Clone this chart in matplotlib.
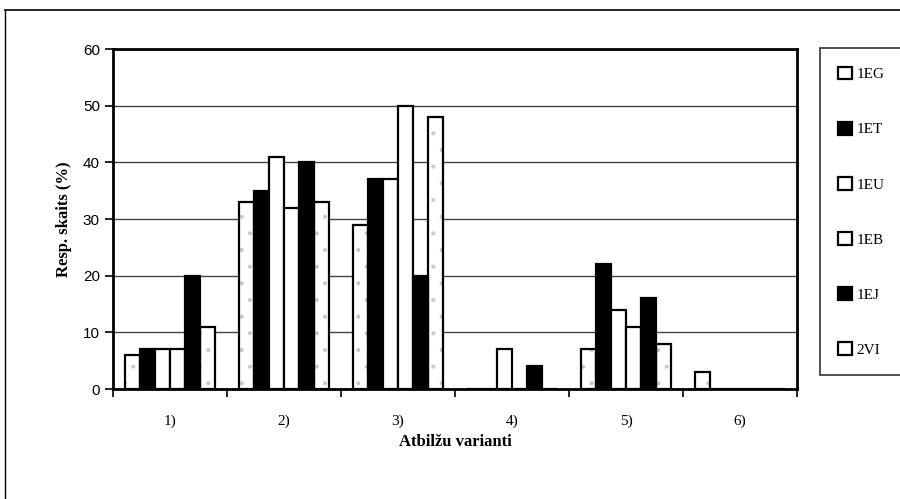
import numpy as np
import matplotlib.pyplot as plt

categories = ['1)', '2)', '3)', '4)', '5)', '6)']
groups = ['1EG', '1ET', '1EU', '1EB', '1EJ', '2VI']
v_1EG = [6, 33, 29, 0, 7, 3]
v_1ET = [7, 35, 37, 0, 22, 0]
v_1EU = [7, 41, 37, 7, 14, 0]
v_1EB = [7, 32, 50, 0, 11, 0]
v_1EJ = [20, 40, 20, 4, 16, 0]
v_2VI = [11, 33, 48, 0, 8, 0]
series = [v_1EG, v_1ET, v_1EU, v_1EB, v_1EJ, v_2VI]
fills = ['white', 'black', 'white', 'white', 'black', 'white']
dotted = [True, False, False, False, False, True]

plt.rcParams['font.family'] = ['Liberation Serif', 'DejaVu Serif']
plt.rcParams['hatch.linewidth'] = 0.5

fig = plt.figure(figsize=(9, 4.99), dpi=100)
ax = fig.add_axes([0.1256, 0.2204, 0.76, 0.6814])

x = np.arange(len(categories))
w = 0.132
for i, vals in enumerate(series):
    pos = x - 2.5 * w + i * w
    if dotted[i]:
        # faint stipple underneath
        ax.bar(pos, vals, width=w, color='white', edgecolor='#c8c8c8',
               linewidth=0, hatch='.', zorder=3)
        ax.bar(pos, vals, width=w, fill=False, edgecolor='black',
               linewidth=1.6, label=groups[i], zorder=4)
    else:
        ax.bar(pos, vals, width=w, color=fills[i], edgecolor='black',
               linewidth=1.6, label=groups[i], zorder=4)

ax.set_xlim(-0.5, 5.5)
ax.set_ylim(0, 60)
ax.set_yticks(range(0, 61, 10))
ax.yaxis.grid(True, color='#444444', linewidth=1.0, zorder=0)
ax.set_xticks(x)
ax.set_xticklabels(categories, fontsize=11)
ax.set_xticks(np.arange(-0.5, 6, 1), minor=True)
ax.tick_params(axis='x', which='major', length=0, pad=18)
ax.tick_params(axis='x', which='minor', length=6, width=1.2, direction='out')
ax.tick_params(axis='y', length=6, width=1.2, labelsize=11)
for lbl in ax.get_yticklabels():
    lbl.set_family(['Liberation Sans Narrow', 'Liberation Sans', 'DejaVu Sans'])
for s in ax.spines.values():
    s.set_linewidth(2)
ax.set_ylabel('Resp. skaits (%)', fontsize=12, fontweight='bold', labelpad=8)
ax.set_xlabel('Atbilžu varianti', fontsize=12, fontweight='bold', labelpad=5)

leg = fig.legend(loc='upper left', bbox_to_anchor=(0.911, 0.903), fontsize=11,
                 frameon=True, fancybox=False, edgecolor='black', handlelength=0.9,
                 handleheight=0.9, handletextpad=0.3, labelspacing=2.65,
                 borderpad=1.2, borderaxespad=0)
leg.get_frame().set_linewidth(1.2)

# outer frame lines
fig.add_artist(plt.Line2D([0.006, 1.0], [0.98, 0.98], color='black', linewidth=1.2))
fig.add_artist(plt.Line2D([0.006, 0.006], [0.0, 0.98], color='black', linewidth=1.0))

fig.savefig('out.png', dpi=100)
